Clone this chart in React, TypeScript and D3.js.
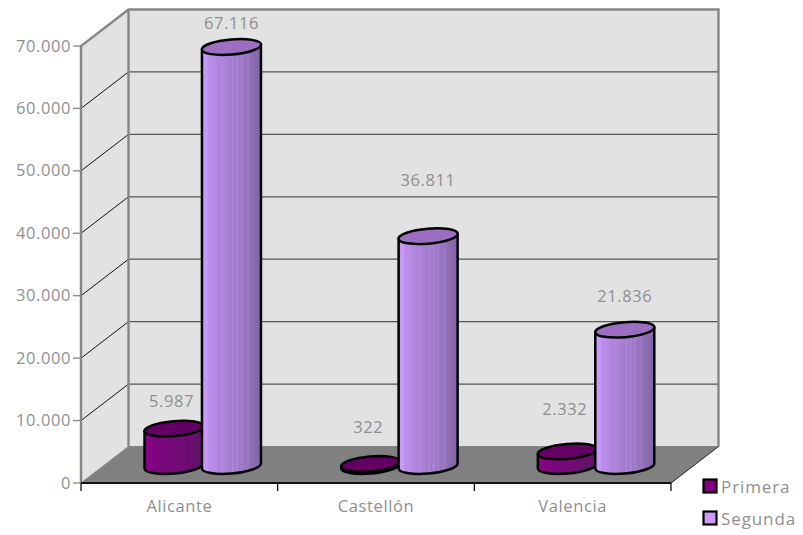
import React from "react";
import * as d3 from "d3";

const categories = ["Alicante", "Castellón", "Valencia"];
const primera = [5987, 322, 2332];
const segunda = [67116, 36811, 21836];
const primeraLabels = ["5.987", "322", "2.332"];
const segundaLabels = ["67.116", "36.811", "21.836"];
const yTicks = [0, 10000, 20000, 30000, 40000, 50000, 60000, 70000];
const yTickLabels = ["0", "10.000", "20.000", "30.000", "40.000", "50.000", "60.000", "70.000"];
const seriesNames = ["Primera", "Segunda"];
const stripeStops = [0, 0.06, 0.08, 0.1, 0.14, 0.17, 0.3, 0.33, 0.5, 0.52, 0.56, 0.6, 0.63, 0.68, 0.72, 0.78, 0.82, 0.9, 1];
const stripeShade = [0, 0.03, -0.06, 0.08, 0.12, 0.1, 0.2, 0.16, 0.26, 0.18, 0.28, 0.2, 0.3, 0.25, 0.34, 0.3, 0.38, 0.42, 0.46];

const W = 803, H = 535;
const font = "'Open Sans', sans-serif";
const textGray = "#8f8f8f";
const wallEdge = "#868686";
const DX = 47.5, DY = -36.5;
const x0 = 81, x1 = 671, yBottom = 483, yTop = 46;

const y = d3.scaleLinear().domain([0, 70000]).range([yBottom, yTop]);
const x = d3.scaleBand<string>().domain(categories).range([x0, x1]);
const h = d3.scaleLinear().domain([0, 70000]).range([0, yBottom - yTop]);

const RX = 29.5, TILT = 2.5, RY = 7.5, ROT = -5;
const BASE = 466;
const labelGapA = [22, 31, 36];
const labelGapB = [18, 50, 28];

function bodyPath(cx: number, top: number) {
  return `M${cx - RX},${top + TILT} L${cx - RX},${BASE + TILT} A${RX},${RY} ${ROT} 0 0 ${cx + RX},${BASE - TILT} L${cx + RX},${top - TILT} Z`;
}

function Gradient({ id, base }: { id: string; base: string }) {
  return (
    <linearGradient id={id} x1="0" x2="1" y1="0" y2="0">
      {stripeStops.map((s, i) => (
        <stop key={i} offset={s} stopColor={d3.interpolateRgb(base, "#2a2a3a")(Math.max(0, stripeShade[i]))} />
      ))}
    </linearGradient>
  );
}

function Cyl({ cx, value, fill, top }: { cx: number; value: number; fill: string; top: string }) {
  const t = BASE - h(value);
  return (
    <g stroke="#000" strokeWidth={2.5}>
      <path d={bodyPath(cx, t)} fill={`url(#${fill})`} strokeLinejoin="round" />
      <ellipse cx={cx} cy={t} rx={RX + 0.2} ry={RY} fill={top} transform={`rotate(${ROT} ${cx} ${t})`} />
    </g>
  );
}

export default function App() {
  const bw = x.bandwidth();
  const axisText = { fontFamily: font, fontSize: 16.5, fill: textGray, letterSpacing: 0.6 };
  return (
    <svg width={W} height={H} style={{ position: "absolute", left: 0, top: 0, background: "#fff" }}>
      <defs>
        <Gradient id="gA" base="#8a008a" />
        <Gradient id="gB" base="#cc99ff" />
      </defs>
      <path d={`M${x0},${yBottom} L${x0},${yTop} L${x0 + DX},${yTop + DY} L${x0 + DX},${yBottom + DY} Z`} fill="#e2e2e2" />
      <rect x={x0 + DX} y={yTop + DY} width={x1 - x0} height={yBottom - yTop} fill="#e2e2e2" />
      {yTicks.slice(1, -1).map((t) => (
        <g key={t}>
          <line x1={x0} y1={y(t)} x2={x0 + DX} y2={y(t) + DY} stroke="#111" strokeWidth={1} />
          <line x1={x0 + DX} y1={y(t) + DY} x2={x1 + DX} y2={y(t) + DY} stroke="#555" strokeWidth={1.3} />
        </g>
      ))}
      <path d={`M${x0},${yBottom} L${x0 + DX},${yBottom + DY} L${x1 + DX},${yBottom + DY} L${x1},${yBottom} Z`} fill="#808080" stroke={wallEdge} strokeWidth={1} />
      <path d={`M${x0},${yBottom} L${x0},${yTop} L${x0 + DX},${yTop + DY} L${x1 + DX},${yTop + DY} L${x1 + DX},${yBottom + DY}`} fill="none" stroke={wallEdge} strokeWidth={2.4} />
      <line x1={x0 + DX} y1={yTop + DY} x2={x0 + DX} y2={yBottom + DY} stroke={wallEdge} strokeWidth={2.4} />
      <line x1={x1} y1={yBottom} x2={x1 + DX} y2={yBottom + DY} stroke="#333" strokeWidth={1} />
      {yTicks.map((t, i) => (
        <g key={t}>
          <line x1={x0 - 8} x2={x0} y1={y(t)} y2={y(t)} stroke={wallEdge} strokeWidth={1.3} />
          <text x={x0 - 10} y={y(t) + 5.5} textAnchor="end" {...axisText}>{yTickLabels[i]}</text>
        </g>
      ))}
      <line x1={x0} x2={x1} y1={yBottom} y2={yBottom} stroke="#111" strokeWidth={1.8} />
      {[...categories.map((c) => x(c) as number), x1].map((p) => (
        <line key={p} x1={p} x2={p} y1={yBottom} y2={yBottom + 8} stroke="#111" strokeWidth={1.3} />
      ))}
      {categories.map((c, i) => {
        const left = x(c) as number;
        const cxA = left + bw * 0.473;
        const cxB = left + bw * 0.765;
        return (
          <g key={c}>
            <Cyl cx={cxA} value={primera[i]} fill="gA" top="#640064" />
            <Cyl cx={cxB} value={segunda[i]} fill="gB" top="#9c6ec2" />
            <text x={left + bw * 0.5} y={512} textAnchor="middle" {...axisText}>{c}</text>
            <text x={cxA - 2.5} y={BASE - h(primera[i]) - labelGapA[i]} textAnchor="middle" {...axisText}>{primeraLabels[i]}</text>
            <text x={cxB} y={BASE - h(segunda[i]) - labelGapB[i]} textAnchor="middle" {...axisText}>{segundaLabels[i]}</text>
          </g>
        );
      })}
      {seriesNames.map((n, i) => (
        <g key={n}>
          <rect x={703.5} y={479.5 + i * 32} width={13} height={13} fill={i === 0 ? "#800080" : "#cc99ff"} stroke="#000" strokeWidth={2.2} />
          <text x={721} y={492.5 + i * 32} fontFamily={font} fontSize={17} letterSpacing={0.9} fill={textGray}>{n}</text>
        </g>
      ))}
    </svg>
  );
}
